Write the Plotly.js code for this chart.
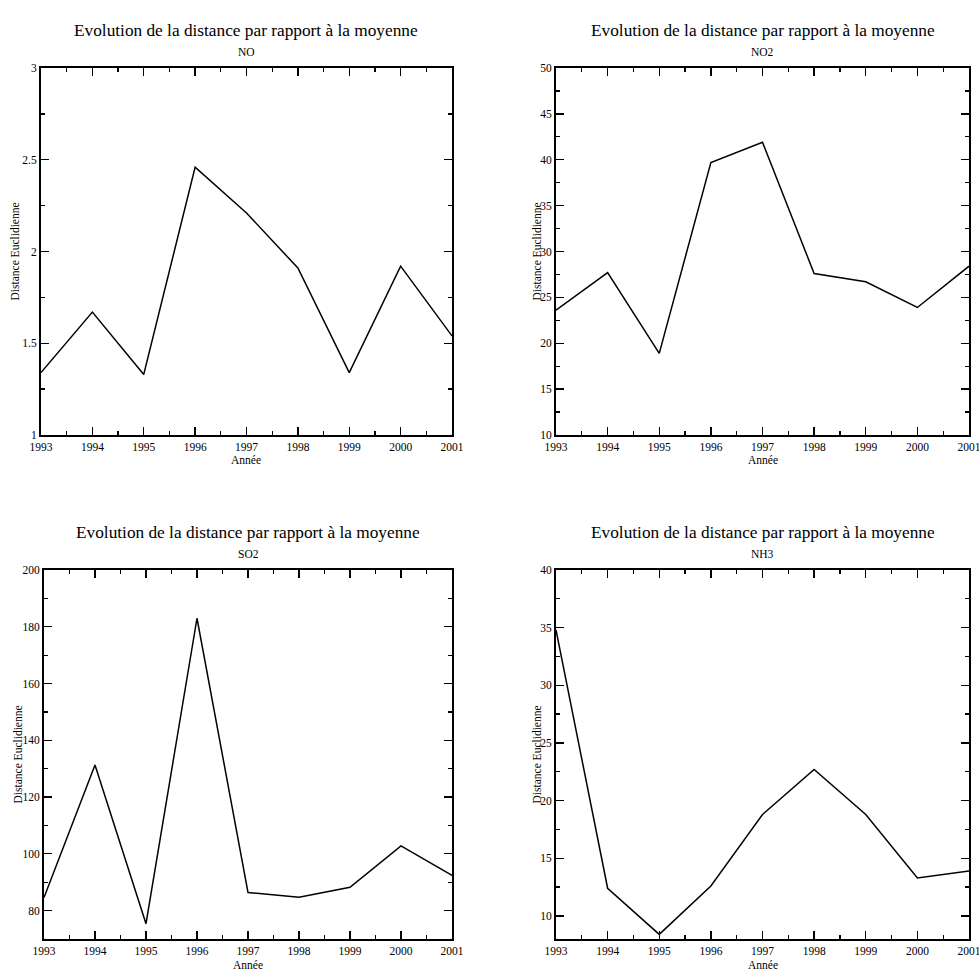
<!DOCTYPE html>
<html>
<head>
<meta charset="utf-8">
<script src="https://cdn.plot.ly/plotly-3.0.1.min.js"></script>
<style>html,body{margin:0;padding:0;background:#fff;}#chart{width:979px;height:971px;}</style>
</head>
<body>
<div id="chart"></div>
<script>
var years = [1993, 1994, 1995, 1996, 1997, 1998, 1999, 2000, 2001];
var valuesNO  = [1.34, 1.67, 1.33, 2.46, 2.21, 1.91, 1.34, 1.92, 1.54];
var valuesNO2 = [23.6, 27.7, 18.9, 39.7, 41.9, 27.6, 26.7, 23.9, 28.4];
var valuesSO2 = [84.6, 131.3, 75.4, 183.0, 86.4, 84.7, 88.2, 102.8, 92.4];
var valuesNH3 = [34.8, 12.4, 8.4, 12.6, 18.8, 22.7, 18.8, 13.3, 13.9];
var pollutants = ["NO", "NO2", "SO2", "NH3"];
var mainTitle = "Evolution de la distance par rapport à la moyenne";
var xTitle = "Année";
var yTitle = "Distance Euclidienne";

var FONT = "'Liberation Serif', 'Times New Roman', serif";
var series = [valuesNO, valuesNO2, valuesSO2, valuesNH3];
var yRanges = [[1, 3], [10, 50], [70, 200], [8, 40]];
var yDticks = [0.5, 5, 20, 5];
var doms = [
  {x: [41/979, 452/979], y: [1 - 435/971, 1 - 68/971]},
  {x: [556/979, 969/979], y: [1 - 435/971, 1 - 68/971]},
  {x: [44/979, 452/979], y: [1 - 939/971, 1 - 570/971]},
  {x: [556/979, 969/979], y: [1 - 939/971, 1 - 570/971]}
];
var xTitleOffsets = [25, 25, 26, 26];

var traces = [];
var layout = {
  width: 979, height: 971,
  margin: {l: 0, r: 0, t: 0, b: 0},
  paper_bgcolor: "#fff", plot_bgcolor: "#fff",
  showlegend: false,
  font: {family: FONT, color: "#000", size: 11},
  annotations: []
};

function axisBase(range, dtick, dom) {
  return {
    domain: dom, range: range, dtick: dtick,
    showgrid: false, zeroline: false,
    showline: true, linewidth: 2, linecolor: "#000", mirror: "ticks",
    ticks: "inside", ticklen: 8, tickwidth: 1.3, tickcolor: "#000",
    minor: {ticks: "inside", ticklen: 4, tickwidth: 1.3, tickcolor: "#000", dtick: dtick / 2, showgrid: false},
    tickfont: {family: FONT, size: 11.5, color: "#000"},
    ticklabeloverflow: "allow",
    fixedrange: true
  };
}

for (var i = 0; i < 4; i++) {
  var sfx = i === 0 ? "" : String(i + 1);
  traces.push({
    x: years, y: series[i], type: "scatter", mode: "lines",
    line: {color: "#000", width: 1.5},
    xaxis: "x" + sfx, yaxis: "y" + sfx, hoverinfo: "skip"
  });
  var xa = axisBase([1993, 2001], 1, doms[i].x);
  xa.tick0 = 1993;
  xa.anchor = "y" + sfx;
  var ya = axisBase(yRanges[i], yDticks[i], doms[i].y);
  ya.tick0 = 0;
  ya.anchor = "x" + sfx;
  layout["xaxis" + sfx] = xa;
  layout["yaxis" + sfx] = ya;

  var cx = (doms[i].x[0] + doms[i].x[1]) / 2;
  var topY = doms[i].y[1];
  var botY = doms[i].y[0];
  layout.annotations.push({
    text: mainTitle, xref: "paper", yref: "paper", x: cx, y: topY + 38/971,
    xanchor: "center", yanchor: "middle", showarrow: false,
    font: {family: FONT, size: 17.3, color: "#000"}
  });
  layout.annotations.push({
    text: pollutants[i], xref: "paper", yref: "paper", x: cx, y: topY + 16/971,
    xanchor: "center", yanchor: "middle", showarrow: false,
    font: {family: FONT, size: 11.5, color: "#000"}
  });
  layout.annotations.push({
    text: xTitle, xref: "paper", yref: "paper", x: cx, y: botY - xTitleOffsets[i]/971,
    xanchor: "center", yanchor: "middle", showarrow: false,
    font: {family: FONT, size: 11.5, color: "#000"}
  });
  layout.annotations.push({
    text: yTitle, xref: "paper", yref: "paper", x: doms[i].x[0] - (i % 2 === 0 ? 27 : 20)/979,
    y: (topY + botY) / 2, textangle: -90,
    xanchor: "center", yanchor: "middle", showarrow: false,
    font: {family: FONT, size: 11.5, color: "#000"}
  });
}

Plotly.newPlot("chart", traces, layout, {displayModeBar: false, staticPlot: true});
</script>
</body>
</html>
